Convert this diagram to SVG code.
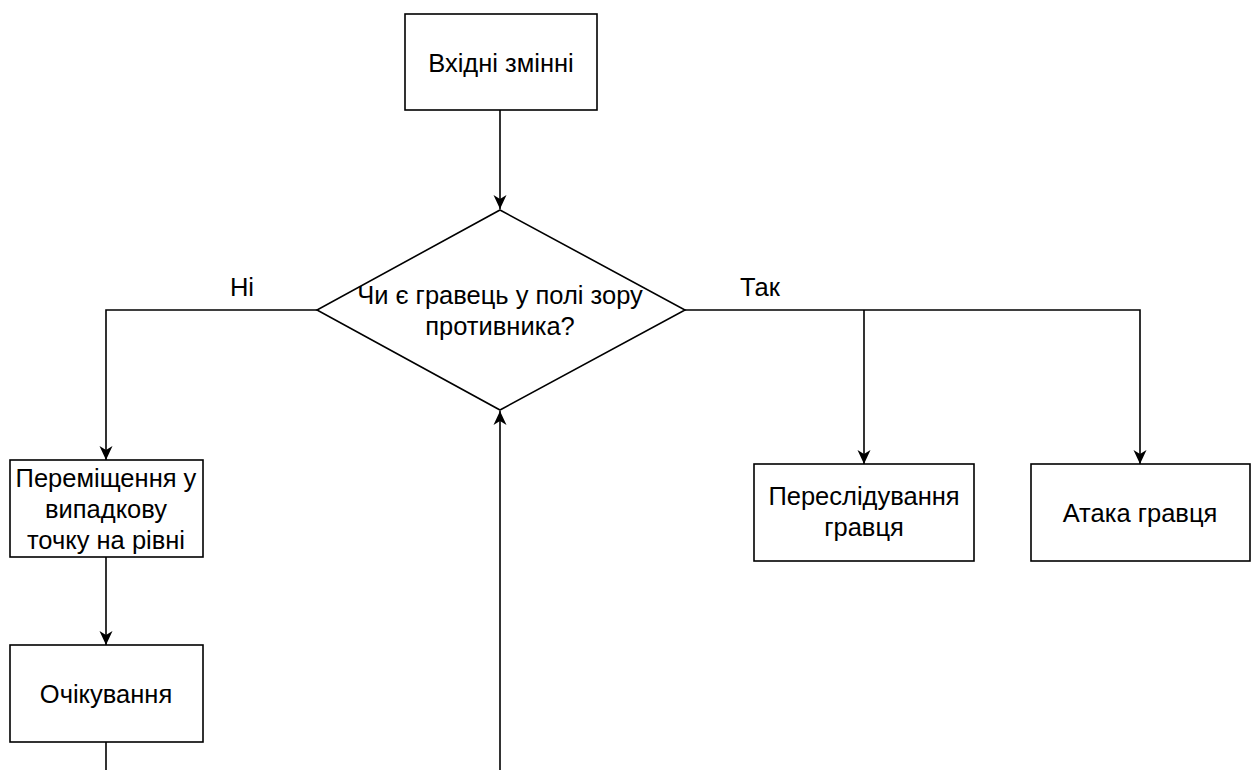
<svg xmlns="http://www.w3.org/2000/svg" width="1251" height="770" viewBox="0 0 1251 770">
  <defs>
    <marker id="arrow" markerUnits="userSpaceOnUse" markerWidth="16" markerHeight="16" viewBox="-15 -8 16 16" refX="0" refY="0" orient="auto">
      <path d="M -14 -6.5 L 0 0 L -14 6.5 L -10 0 Z" fill="#000"/>
    </marker>
    <style>
      .shape { fill: #fff; stroke: #000; stroke-width: 1.6; }
      .edge { fill: none; stroke: #000; stroke-width: 1.6; }
      .label { font-family: "Liberation Sans", Arial, sans-serif; font-size: 25.5px; fill: #000; text-anchor: middle; }
    </style>
  </defs>
  <rect width="1251" height="770" fill="#fff"/>

  <!-- connectors -->
  <g id="connectors">
    <path class="edge" d="M 500 110 L 500 209" marker-end="url(#arrow)"/>
    <path class="edge" d="M 317 310 L 106 310 L 106 460" marker-end="url(#arrow)"/>
    <path class="edge" d="M 685 310 L 1140 310 L 1140 464" marker-end="url(#arrow)"/>
    <path class="edge" d="M 864 310 L 864 464" marker-end="url(#arrow)"/>
    <path class="edge" d="M 106 557 L 106 645" marker-end="url(#arrow)"/>
    <path class="edge" d="M 106 742 L 106 770"/>
    <path class="edge" d="M 500 770 L 500 411" marker-end="url(#arrow)"/>
    <text class="label" x="242" y="296">Ні</text>
    <text class="label" x="760" y="296">Так</text>
  </g>

  <g id="inputs">
    <rect class="shape" x="405" y="14" width="192" height="96"/>
    <text class="label" x="501" y="72">Вхідні змінні</text>
  </g>

  <g id="decision">
    <polygon class="shape" points="500,210 685,310 500,410 317,310"/>
    <text class="label" x="500" y="304">Чи є гравець у полі зору</text>
    <text class="label" x="500" y="335">противника?</text>
  </g>

  <g id="wander">
    <rect class="shape" x="10" y="460" width="193" height="97"/>
    <text class="label" x="106" y="487">Переміщення у</text>
    <text class="label" x="106" y="518">випадкову</text>
    <text class="label" x="106" y="549">точку на рівні</text>
  </g>

  <g id="wait">
    <rect class="shape" x="10" y="645" width="193" height="97"/>
    <text class="label" x="106" y="703">Очікування</text>
  </g>

  <g id="chase">
    <rect class="shape" x="754" y="464" width="220" height="97"/>
    <text class="label" x="864" y="505">Переслідування</text>
    <text class="label" x="864" y="536">гравця</text>
  </g>

  <g id="attack">
    <rect class="shape" x="1031" y="464" width="219" height="97"/>
    <text class="label" x="1140" y="522">Атака гравця</text>
  </g>
</svg>
